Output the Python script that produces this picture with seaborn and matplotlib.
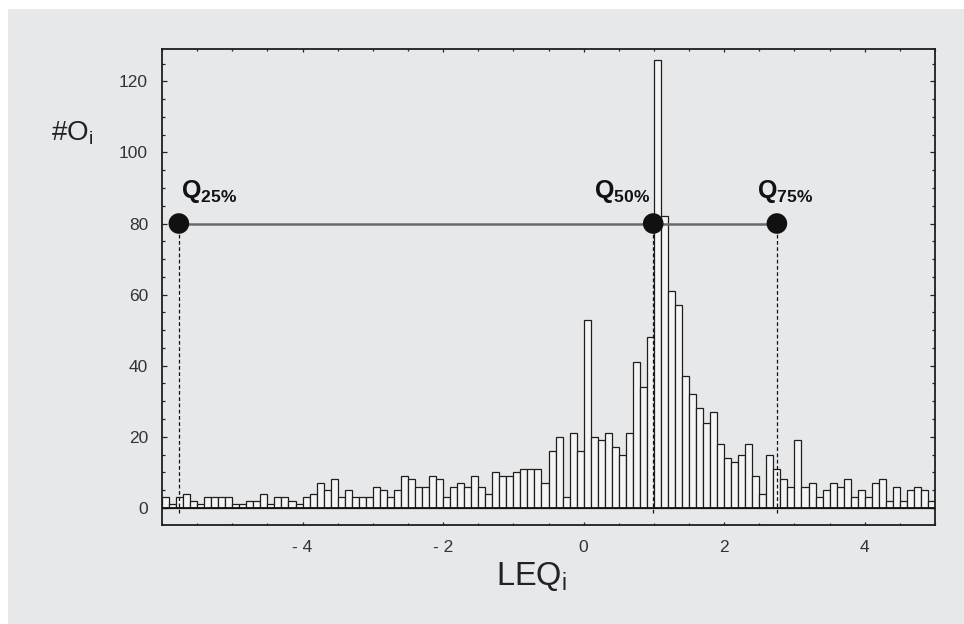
import numpy as np
import pandas as pd
import matplotlib
matplotlib.use("Agg")
import matplotlib.pyplot as plt
from matplotlib.patches import Rectangle
from matplotlib.ticker import MultipleLocator, FixedLocator
import seaborn as sns

# Histogram of LEQ_i: first bin edge, bin width and counts per bin
bin_start = -6.0
bin_width = 0.1
counts = [
    3, 1, 3, 4, 2, 1, 3, 3, 3, 3,      # -6.0 .. -5.1
    1, 1, 2, 2, 4, 1, 3, 3, 2, 1,      # -5.0 .. -4.1
    3, 4, 7, 5, 8, 3, 5, 3, 3, 3,      # -4.0 .. -3.1
    6, 5, 3, 5, 9, 8, 6, 6, 9, 8,      # -3.0 .. -2.1
    3, 6, 7, 6, 9, 6, 4, 10, 9, 9,     # -2.0 .. -1.1
    10, 11, 11, 11, 7, 16, 20, 3, 21, 16,  # -1.0 .. -0.1
    53, 20, 19, 21, 17, 15, 21, 41, 34, 48,  # 0.0 .. 0.9
    126, 82, 61, 57, 37, 32, 28, 24, 27, 18,  # 1.0 .. 1.9
    14, 13, 15, 18, 9, 4, 15, 11, 8, 6,  # 2.0 .. 2.9
    19, 6, 7, 3, 5, 7, 6, 8, 3, 5,     # 3.0 .. 3.9
    3, 7, 8, 2, 6, 2, 5, 6, 5, 2,      # 4.0 .. 4.9
]

# Quartiles of the distribution
quartile_names = ["25%", "50%", "75%"]
quartile_values = [-5.76, 0.99, 2.75]
quartile_level = 80

x_tick_values = [-4, -2, 0, 2, 4]
x_tick_labels = ["- 4", "- 2", "0", "2", "4"]
y_tick_values = [0, 20, 40, 60, 80, 100, 120]

bin_end = bin_start + bin_width * len(counts)
centers = bin_start + bin_width * (np.arange(len(counts)) + 0.5)
df = pd.DataFrame({"leq": centers, "n": counts})

# ---- style ----
sns.set_style("ticks")
PANEL = "#e7e8ea"
plt.rcParams["font.family"] = ["Liberation Sans", "DejaVu Sans"]
plt.rcParams["mathtext.fontset"] = "custom"
plt.rcParams["mathtext.rm"] = "Liberation Sans"
plt.rcParams["mathtext.bf"] = "Liberation Sans:bold"

fig = plt.figure(figsize=(9.64, 6.24), dpi=100, facecolor="white")
fig.patches.append(Rectangle((8 / 964, 0), 1, 1 - 9 / 624,
                             transform=fig.transFigure, facecolor=PANEL,
                             edgecolor="none", zorder=-10))
ax = fig.add_axes([162 / 964, 1 - 525 / 624, 773 / 964, 475.7 / 624])
ax.set_facecolor(PANEL)

sns.histplot(data=df, x="leq", weights="n", binwidth=bin_width,
             binrange=(bin_start, bin_end), stat="count",
             color="#f4f4f5", edgecolor="#1e1e1e", linewidth=0.9,
             alpha=1, ax=ax, zorder=2)

ax.axhline(0, color="#111111", lw=1.3, zorder=3)

# quartile markers
ax.vlines(quartile_values, -1.5, quartile_level, colors="#111111",
          linestyles=(0, (3, 2)), lw=0.9, zorder=4)
sns.lineplot(x=[quartile_values[0], quartile_values[-1]],
             y=[quartile_level, quartile_level], color="#6a6a6a",
             lw=1.8, ax=ax, zorder=4)
sns.scatterplot(x=quartile_values, y=[quartile_level] * 3, s=220,
                color="#111111", edgecolor="none", ax=ax, zorder=5)

label_x = [-5.73, 0.15, 2.46]
for name, lx in zip(quartile_names, label_x):
    ax.text(lx, 87.3, r"$\mathbf{Q}_{\mathbf{" + name.replace("%", r"\%") + "}}$",
            fontsize=18, color="#111111", ha="left", va="baseline", zorder=6)

ax.set_xlim(-6, 5)
ax.set_ylim(-4.8, 129)

ax.xaxis.set_major_locator(FixedLocator(x_tick_values))
ax.set_xticklabels(x_tick_labels)
ax.xaxis.set_minor_locator(MultipleLocator(0.5))
ax.yaxis.set_major_locator(FixedLocator(y_tick_values))
ax.yaxis.set_minor_locator(MultipleLocator(5))

ax.tick_params(axis="both", which="both", direction="in",
               top=True, right=True, colors="#222222",
               labelcolor="#333333", labelsize=12.5, width=0.9)
ax.tick_params(axis="y", which="major", length=3.5, pad=10)
ax.tick_params(axis="y", which="minor", length=2.4)
ax.tick_params(axis="x", which="major", length=2.4, pad=11)
ax.tick_params(axis="x", which="minor", length=1.5)

for side in ax.spines.values():
    side.set_linewidth(1.3)
    side.set_color("#1e1e1e")

ax.set_xlabel("")
ax.set_ylabel("")
fig.text(496 / 964, 1 - 585 / 624, r"LEQ$_\mathrm{i}$", fontsize=23.5,
         color="#222222", ha="left", va="baseline")
fig.text(51 / 964, 1 - 140 / 624, r"#O$_\mathrm{i}$", fontsize=20,
         color="#222222", ha="left", va="baseline")

fig.savefig("out.png", dpi=100, facecolor=fig.get_facecolor())
